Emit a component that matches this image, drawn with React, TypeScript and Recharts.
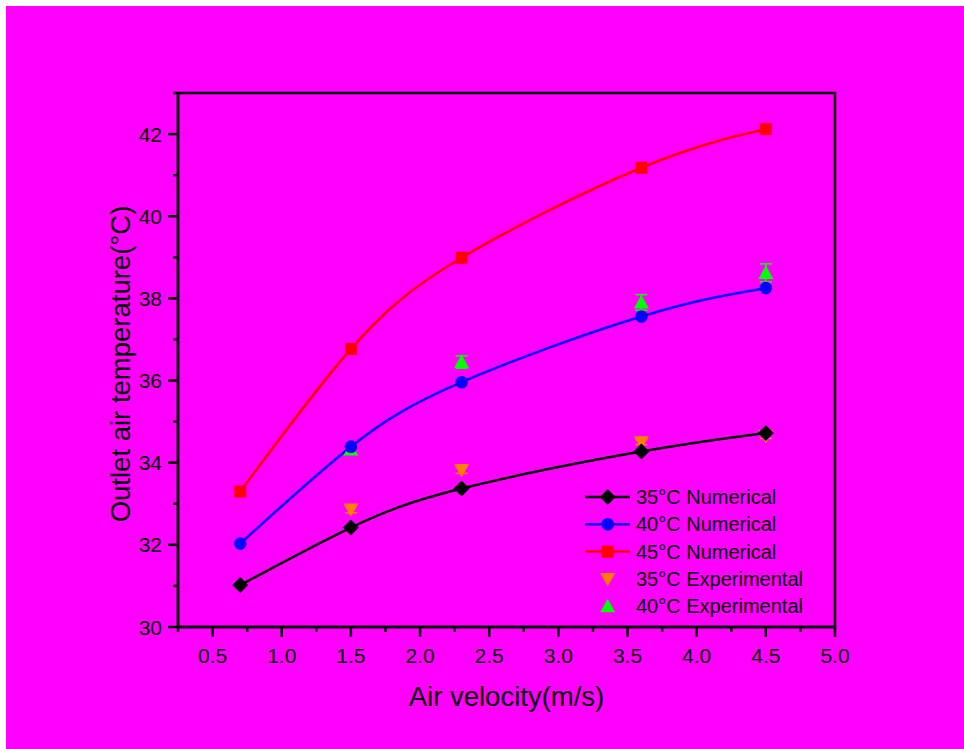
import React from "react";
import {
  ComposedChart,
  Line,
  Scatter,
  XAxis,
  YAxis,
  ErrorBar,
  Label,
  Legend,
  ReferenceArea,
} from "recharts";

const velocity = [0.7, 1.5, 2.3, 3.6, 4.5];
const num35 = [31.02, 32.42, 33.37, 34.27, 34.72];
const num40 = [32.03, 34.39, 35.96, 37.56, 38.25];
const num45 = [33.3, 36.77, 38.99, 41.18, 42.12];

const expVelocity = [1.5, 2.3, 3.6, 4.5];
const exp35 = [32.86, 33.82, 34.5, 34.65];
const exp35Err = [0.08, 0.08, 0.06, 0.06];
const exp40 = [34.32, 36.45, 37.9, 38.62];
const exp40Err = [0.1, 0.15, 0.19, 0.22];

const xTicks = [0.25, 0.5, 0.75, 1, 1.25, 1.5, 1.75, 2, 2.25, 2.5, 2.75, 3, 3.25, 3.5, 3.75, 4, 4.25, 4.5, 4.75, 5];
const yTicks = [30, 31, 32, 33, 34, 35, 36, 37, 38, 39, 40, 41, 42, 43];

const legendLabels = [
  "35°C Numerical",
  "40°C Numerical",
  "45°C Numerical",
  "35°C Experimental",
  "40°C Experimental",
];

const FONT = "'Liberation Sans', Arial, sans-serif";
const AXIS_W = 2.5;

const toPoints = (xs: number[], ys: number[], errs?: number[]) =>
  xs.map((x, i) => ({ x, y: ys[i], err: errs ? errs[i] : 0 }));

const line35 = toPoints(velocity, num35);
const line40 = toPoints(velocity, num40);
const line45 = toPoints(velocity, num45);
const pts35 = toPoints(expVelocity, exp35, exp35Err);
const pts40 = toPoints(expVelocity, exp40, exp40Err);

type Kind = "diamond" | "circle" | "square" | "down" | "up";

function marker(kind: Kind, cx: number, cy: number, color: string, key?: string) {
  switch (kind) {
    case "diamond":
      return (
        <polygon key={key} points={`${cx},${cy - 8} ${cx + 8},${cy} ${cx},${cy + 8} ${cx - 8},${cy}`} fill={color} />
      );
    case "circle":
      return <circle key={key} cx={cx} cy={cy} r={6.3} fill={color} />;
    case "square":
      return <rect key={key} x={cx - 6} y={cy - 6} width={12} height={12} fill={color} />;
    case "down":
      return (
        <polygon key={key} points={`${cx - 7.5},${cy - 6} ${cx + 7.5},${cy - 6} ${cx},${cy + 7.5}`} fill={color} />
      );
    default:
      return (
        <polygon key={key} points={`${cx - 7.5},${cy + 6} ${cx + 7.5},${cy + 6} ${cx},${cy - 7.5}`} fill={color} />
      );
  }
}

const legendStyle: { color: string; kind: Kind; line: boolean }[] = [
  { color: "#000000", kind: "diamond", line: true },
  { color: "#0000ff", kind: "circle", line: true },
  { color: "#ff0000", kind: "square", line: true },
  { color: "#ff8000", kind: "down", line: false },
  { color: "#00ff00", kind: "up", line: false },
];

const XTick = (props: any) => {
  const { x, y, payload } = props;
  const v = payload.value as number;
  const major = Math.abs(v * 2 - Math.round(v * 2)) < 1e-6;
  return (
    <g>
      <line x1={x} x2={x} y1={y} y2={y + (major ? 10 : 5)} stroke="#000" strokeWidth={AXIS_W} />
      {major && (
        <text x={x} y={y + 36} textAnchor="middle" fontSize={21} fontFamily={FONT} fill="#000">
          {v.toFixed(1)}
        </text>
      )}
    </g>
  );
};

const YTick = (props: any) => {
  const { x, y, payload } = props;
  const v = payload.value as number;
  const major = v % 2 === 0;
  return (
    <g>
      <line x1={x} x2={x - (major ? 10 : 5)} y1={y} y2={y} stroke="#000" strokeWidth={AXIS_W} />
      {major && (
        <text x={x - 16} y={y + 7.5} textAnchor="end" fontSize={21} fontFamily={FONT} fill="#000">
          {v}
        </text>
      )}
    </g>
  );
};

const LegendBox = () => (
  <svg width={240} height={140} style={{ display: "block" }}>
    {legendLabels.map((label, i) => {
      const cy = 14 + i * 27.3;
      const s = legendStyle[i];
      return (
        <g key={label}>
          {s.line && <line x1={6} x2={51} y1={cy} y2={cy} stroke={s.color} strokeWidth={2.5} />}
          {marker(s.kind, 28.7, cy, s.color)}
          <text x={57} y={cy + 7} fontSize={20} fontFamily={FONT} fill="#000">
            {label}
          </text>
        </g>
      );
    })}
  </svg>
);

export default function App() {
  return (
    <div
      style={{
        position: "absolute",
        left: 6,
        top: 6,
        width: 958,
        height: 743,
        background: "#ff00ff",
      }}
    >
      <ComposedChart width={958} height={743} margin={{ top: 87, right: 129, bottom: 52, left: 92 }}>
        <XAxis
          dataKey="x"
          type="number"
          domain={[0.25, 5]}
          ticks={xTicks}
          interval={0}
          tick={<XTick />}
          tickLine={false}
          tickSize={0}
          tickMargin={0}
          height={70}
          axisLine={{ stroke: "#000", strokeWidth: AXIS_W }}
          allowDataOverflow
        >
          <Label
            content={(p: any) => {
              const vb = p.viewBox;
              return (
                <text x={vb.x + vb.width / 2} y={vb.y + 79} textAnchor="middle" fontSize={27.5} fontFamily={FONT} fill="#000">
                  Air velocity(m/s)
                </text>
              );
            }}
          />
        </XAxis>
        <YAxis
          type="number"
          domain={[30, 43]}
          ticks={yTicks}
          interval={0}
          tick={<YTick />}
          tickLine={false}
          tickSize={0}
          tickMargin={0}
          width={80}
          axisLine={{ stroke: "#000", strokeWidth: AXIS_W }}
          allowDataOverflow
        >
          <Label
            content={(p: any) => {
              const vb = p.viewBox;
              const cx = vb.x + 32;
              const cy = vb.y + vb.height / 2 + 4;
              return (
                <text
                  x={cx}
                  y={cy}
                  transform={`rotate(-90 ${cx} ${cy})`}
                  textAnchor="middle"
                  fontSize={27.5}
                  fontFamily={FONT}
                  fill="#000"
                >
                  Outlet air temperature(°C)
                </text>
              );
            }}
          />
        </YAxis>
        <ReferenceArea x1={0.25} x2={5} y1={30} y2={43} fill="none" stroke="#000" strokeWidth={AXIS_W} />
        <Line
          data={line35}
          dataKey="y"
          type="natural"
          stroke="#000000"
          strokeWidth={2.5}
          isAnimationActive={false}
          dot={(p: any) => marker("diamond", p.cx, p.cy, "#000000", `d35-${p.index}`)}
          activeDot={false}
        />
        <Line
          data={line40}
          dataKey="y"
          type="natural"
          stroke="#0000ff"
          strokeWidth={2.5}
          isAnimationActive={false}
          dot={(p: any) => marker("circle", p.cx, p.cy, "#0000ff", `d40-${p.index}`)}
          activeDot={false}
        />
        <Line
          data={line45}
          dataKey="y"
          type="natural"
          stroke="#ff0000"
          strokeWidth={2.5}
          isAnimationActive={false}
          dot={(p: any) => marker("square", p.cx, p.cy, "#ff0000", `d45-${p.index}`)}
          activeDot={false}
        />
        <Scatter
          data={pts35}
          dataKey="y"
          isAnimationActive={false}
          shape={(p: any) => marker("down", p.cx, p.cy, "#ff8000")}
        >
          <ErrorBar dataKey="err" direction="y" width={6} stroke="#ff8000" strokeWidth={1.5} />
        </Scatter>
        <Scatter
          data={pts40}
          dataKey="y"
          isAnimationActive={false}
          shape={(p: any) => marker("up", p.cx, p.cy, "#00ff00")}
        >
          <ErrorBar dataKey="err" direction="y" width={6} stroke="#00ff00" strokeWidth={1.5} />
        </Scatter>
        <Legend
          layout="horizontal"
          verticalAlign="middle"
          align="center"
          content={() => <LegendBox />}
          wrapperStyle={{ position: "absolute", left: 573, top: 477, width: 240, height: 140 }}
        />
      </ComposedChart>
    </div>
  );
}
